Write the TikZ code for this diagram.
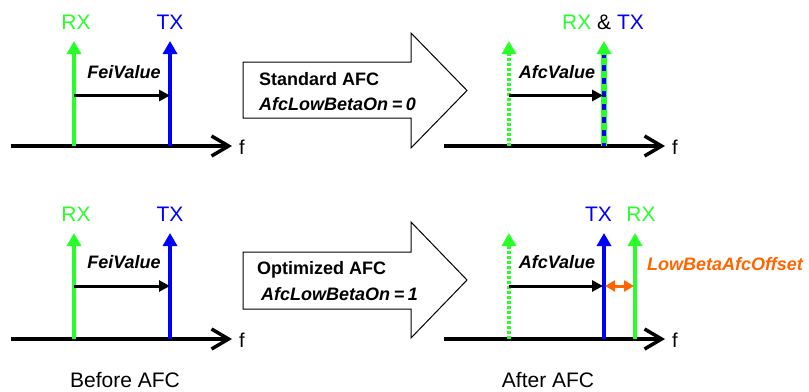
\documentclass[tikz,border=0pt]{standalone}
\usepackage{fontspec}
\setmainfont{Liberation Sans}
\usetikzlibrary{arrows.meta}
\definecolor{sgreen}{RGB}{40,255,40}
\definecolor{sblue}{RGB}{0,0,255}
\definecolor{sorange}{RGB}{255,102,0}
\begin{document}
\begin{tikzpicture}[x=1bp,y=-1bp,
  axis/.style={line width=3.5bp,black,-{Straight Barb[length=17bp,width=20bp,line width=3.5bp]}},
  sigline/.style={line width=4bp,-{Triangle[length=13bp,width=14bp]}},
  dotline/.style={line width=4bp,sgreen,dash pattern=on 3.2bp off 1.8bp,-{Triangle[length=13bp,width=14bp]}},
  valarrow/.style={line width=3bp,black,-{Triangle[length=11bp,width=11bp]}},
  offarrow/.style={line width=3bp,sorange,{Triangle[length=10bp,width=11bp]}-{Triangle[length=10bp,width=11bp]}},
  bigarrow/.style={draw=black,line width=1bp,fill=white,line join=miter},
  lbl/.style={font=\fontsize{21bp}{25bp}\selectfont,inner sep=0pt,anchor=base},
  flbl/.style={font=\fontsize{20bp}{24bp}\selectfont,inner sep=0pt,anchor=base west},
  vlbl/.style={font=\fontsize{18bp}{22bp}\selectfont\bfseries\itshape,inner sep=0pt,anchor=base},
  boxtxt/.style={font=\fontsize{18bp}{22bp}\selectfont\bfseries,inner sep=0pt,anchor=base west},
  boxitxt/.style={font=\fontsize{18bp}{22bp}\selectfont\bfseries\itshape,inner sep=0pt,anchor=base west},
]
\useasboundingbox (0,0) rectangle (809,391);

% ---------- top-left: before ----------
\coordinate (a1s) at (11,146);
\coordinate (a1e) at (232,146);
\draw[axis] (a1s) -- (a1e);
\node[flbl] (f1) at (239,154) {f};
\coordinate (rx1b) at (74,146);
\coordinate (rx1t) at (74,41);
\coordinate (tx1b) at (170,146);
\coordinate (tx1t) at (170,41);
\draw[sigline,sgreen] (rx1b) -- (rx1t);
\draw[sigline,sblue] (tx1b) -- (tx1t);
\node[lbl,text=sgreen] (rx1l) at (76,29.5) {RX};
\node[lbl,text=sblue] (tx1l) at (170,29.5) {TX};
\coordinate (fv1s) at (74,95.5);
\coordinate (fv1e) at (170,95.5);
\draw[valarrow] (fv1s) -- (fv1e);
\node[vlbl] (fv1l) at (124,78) {FeiValue};

% ---------- top block arrow ----------
\draw[bigarrow] (243,62) -- (411,62) -- (411,33) -- (467,90.5) -- (411,148) -- (411,118) -- (243,118) -- cycle;
\node[boxtxt] (std) at (259,85) {Standard AFC};
\node[boxitxt] (lb0) at (259,110) {AfcLowBetaOn\hspace{0.2em}=\hspace{0.2em}0};

% ---------- top-right: after standard ----------
\coordinate (a2s) at (444,146);
\coordinate (a2e) at (665,146);
\draw[axis] (a2s) -- (a2e);
\node[flbl] (f2) at (672,154) {f};
\coordinate (orx2b) at (509,146);
\coordinate (orx2t) at (509,41);
\draw[dotline] (orx2b) -- (orx2t);
\coordinate (rt2b) at (604,146);
\coordinate (rt2t) at (604,41);
\coordinate (rt2m) at (604,55);
\draw[line width=5.5bp,sgreen,-{Triangle[length=13bp,width=14bp]}] (rt2b) -- (rt2t);
\draw[line width=3.5bp,sblue,dash pattern=on 6bp off 7bp,dash phase=3bp] (rt2b) -- (rt2m);
\node[lbl,anchor=base west] (rt2l) at (562,29.5) {\textcolor{sgreen}{RX} \& \textcolor{sblue}{TX}};
\coordinate (av2s) at (509,95.5);
\coordinate (av2e) at (603,95.5);
\draw[valarrow] (av2s) -- (av2e);
\node[vlbl] (av2l) at (557,78) {AfcValue};

% ---------- bottom-left: before ----------
\coordinate (a3s) at (11,339);
\coordinate (a3e) at (232,339);
\draw[axis] (a3s) -- (a3e);
\node[flbl] (f3) at (239,347) {f};
\coordinate (rx3b) at (74,339);
\coordinate (rx3t) at (74,233);
\coordinate (tx3b) at (170,339);
\coordinate (tx3t) at (170,233);
\draw[sigline,sgreen] (rx3b) -- (rx3t);
\draw[sigline,sblue] (tx3b) -- (tx3t);
\node[lbl,text=sgreen] (rx3l) at (76,221) {RX};
\node[lbl,text=sblue] (tx3l) at (170,221) {TX};
\coordinate (fv3s) at (74,286);
\coordinate (fv3e) at (170,286);
\draw[valarrow] (fv3s) -- (fv3e);
\node[vlbl] (fv3l) at (124,268) {FeiValue};
\node[lbl] (before) at (125,387) {Before AFC};

% ---------- bottom block arrow ----------
\draw[bigarrow] (243,252) -- (411,252) -- (411,222) -- (467,280) -- (411,338) -- (411,309) -- (243,309) -- cycle;
\node[boxtxt] (opt) at (257,274.5) {Optimized AFC};
\node[boxitxt] (lb1) at (261,300.5) {AfcLowBetaOn\hspace{0.2em}=\hspace{0.2em}1};

% ---------- bottom-right: after optimized ----------
\coordinate (a4s) at (444,339);
\coordinate (a4e) at (665,339);
\draw[axis] (a4s) -- (a4e);
\node[flbl] (f4) at (672,347) {f};
\coordinate (orx4b) at (509,339);
\coordinate (orx4t) at (509,233);
\draw[dotline] (orx4b) -- (orx4t);
\coordinate (tx4b) at (604,339);
\coordinate (tx4t) at (604,233);
\coordinate (rx4b) at (635,339);
\coordinate (rx4t) at (635,233);
\draw[sigline,sblue] (tx4b) -- (tx4t);
\draw[sigline,sgreen] (rx4b) -- (rx4t);
\node[lbl,text=sblue] (tx4l) at (598.5,221) {TX};
\node[lbl,text=sgreen] (rx4l) at (641,221) {RX};
\coordinate (av4s) at (509,286);
\coordinate (av4e) at (603,286);
\draw[valarrow] (av4s) -- (av4e);
\node[vlbl] (av4l) at (557,268) {AfcValue};
\coordinate (of4s) at (605,286);
\coordinate (of4e) at (634,286);
\draw[offarrow] (of4s) -- (of4e);
\node[vlbl,anchor=base west,text=sorange] (offl) at (647,270) {LowBetaAfcOffset};
\node[lbl] (after) at (548,387) {After AFC};
\end{tikzpicture}
\end{document}
